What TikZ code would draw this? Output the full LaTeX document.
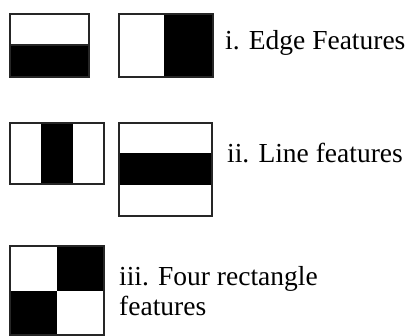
\documentclass[tikz,border=0pt]{standalone}
\usepackage{fontspec}
\setmainfont{Liberation Serif}
\newfontfamily\labelfont{Liberation Serif}
\tikzset{
  haar/.style={line width=1.3pt, draw=black!85},
  label/.style={anchor=base west, inner sep=0pt, font=\labelfont\fontsize{27.5}{30}\selectfont}
}
\begin{document}
\begin{tikzpicture}[x=1pt,y=-1pt]
\useasboundingbox (0,0) rectangle (406,336);
% Edge features
\fill (10,45) rectangle (89,77);
\draw[haar] (10,14) rectangle (89,77);
\draw[haar] (10,45) -- (89,45);
\fill (164,14) rectangle (213,77);
\draw[haar] (119,14) rectangle (213,77);
\node[label] (edge) at (225,50) {i. Edge Features};
% Line features
\fill (41,123) rectangle (73,184);
\draw[haar] (10,123) rectangle (104,184);
\fill (119,153) rectangle (212,185);
\draw[haar] (119,123) rectangle (212,216);
\node[label] (line) at (227,163) {ii. Line features};
% Four rectangle
\fill (57,246) rectangle (104,291);
\fill (10,291) rectangle (57,335);
\draw[haar] (10,246) rectangle (104,335);
\node[label] (four) at (119,285) {iii. Four rectangle};
\node[label] (four2) at (119,315) {features};
\end{tikzpicture}
\end{document}
